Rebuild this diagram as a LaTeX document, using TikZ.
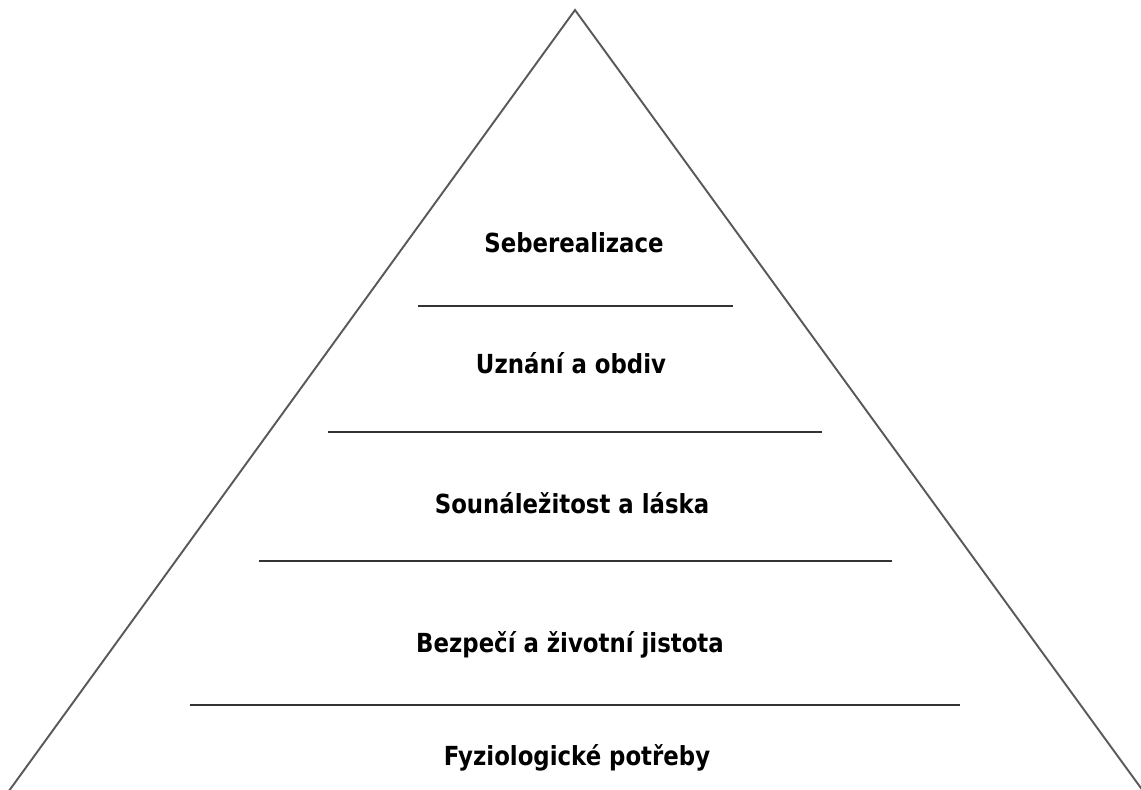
\documentclass[tikz,border=0pt]{standalone}
\usepackage{fontspec}
\setmainfont{DejaVu Sans}
\usepackage{tikz}
\definecolor{edge}{rgb}{0.35,0.35,0.35}
\definecolor{rule}{rgb}{0.2,0.2,0.2}

\begin{document}
\begin{tikzpicture}[x=0.02cm,y=-0.02cm,
		level/.style={font=\bfseries\fontsize{13}{15}\selectfont,yscale=1.15},
		sep/.style={draw=rule,line width=1.2pt}]
				\useasboundingbox (0,0) rectangle (1141,789);
				% pyramid
				\coordinate (top) at (575,10);
				\coordinate (bl) at (6,795);
				\coordinate (br) at (1146,795);
				\draw[edge,line width=1.1pt] (bl) -- (top) -- (br);
				
				% separators
				\draw[sep] (418,306) -- (733,306);
				\draw[sep] (328,432) -- (822,432);
				\draw[sep] (259,561) -- (892,561);
				\draw[sep] (190,705) -- (960,705);
				
				% levels
				\node[level] (self) at (574,243) {Seberealizace};
				\node[level] (esteem) at (571,363) {Uznání a obdiv};
				\node[level] (love) at (572,503) {Sounáležitost a láska};
				\node[level] (safety) at (570,645) {Bezpečí a životní jistota};
				\node[level] (body) at (577,758) {Fyziologické potřeby};
				
		\end{tikzpicture}
\end{document}
